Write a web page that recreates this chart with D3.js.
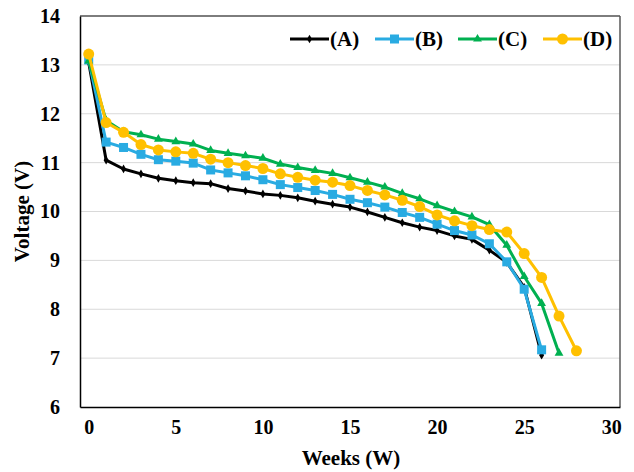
<!DOCTYPE html>
<html>
<head>
<meta charset="utf-8">
<script src="https://cdn.jsdelivr.net/npm/d3@7"></script>
<style>
  body { margin: 0; background: #fff; }
  text { font-family: "Liberation Serif", "Times New Roman", serif; font-weight: bold; fill: #000; }
</style>
</head>
<body>
<svg id="chart" width="634" height="472"></svg>
<script>
var seriesNames = ["(A)", "(B)", "(C)", "(D)"];
var seriesColors = ["#000000", "#29abe2", "#00b050", "#ffc000"];
var seriesMarkers = ["diamond", "square", "triangle", "circle"];

var voltsA = [13.05, 11.05, 10.87, 10.77, 10.68, 10.63, 10.59, 10.57, 10.47, 10.42, 10.36, 10.33, 10.28, 10.21, 10.15, 10.09, 9.99, 9.88, 9.77, 9.68, 9.61, 9.50, 9.43, 9.21, 8.96, 8.45, 7.06];
var voltsB = [13.10, 11.42, 11.31, 11.17, 11.06, 11.03, 10.99, 10.85, 10.79, 10.73, 10.65, 10.55, 10.49, 10.43, 10.35, 10.25, 10.18, 10.09, 9.98, 9.88, 9.74, 9.61, 9.52, 9.34, 8.97, 8.41, 7.17];
var voltsC = [13.08, 11.86, 11.63, 11.57, 11.48, 11.43, 11.38, 11.25, 11.19, 11.14, 11.09, 10.97, 10.90, 10.84, 10.78, 10.69, 10.60, 10.50, 10.37, 10.26, 10.12, 10.00, 9.89, 9.73, 9.31, 8.67, 8.12, 7.10];
var voltsD = [13.22, 11.82, 11.62, 11.37, 11.26, 11.22, 11.19, 11.07, 11.00, 10.94, 10.88, 10.77, 10.70, 10.64, 10.60, 10.53, 10.43, 10.34, 10.23, 10.10, 9.93, 9.81, 9.71, 9.63, 9.58, 9.14, 8.65, 7.86, 7.15];

var xTicks = [0, 5, 10, 15, 20, 25, 30];
var yTicks = [6, 7, 8, 9, 10, 11, 12, 13, 14];

var allSeries = [voltsA, voltsB, voltsC, voltsD];

var plotLeft = 80, plotRight = 620, plotTop = 16, plotBottom = 407;

var x = d3.scaleLinear().domain([-0.5, 30.5]).range([plotLeft, plotRight]);
var y = d3.scaleLinear().domain([6, 14]).range([plotBottom, plotTop]);

var svg = d3.select("#chart");

// gridlines
svg.append("g")
  .selectAll("line")
  .data(yTicks.slice(1))
  .enter().append("line")
    .attr("x1", plotLeft).attr("x2", plotRight)
    .attr("y1", function(d) { return y(d); })
    .attr("y2", function(d) { return y(d); })
    .attr("stroke", "#d9d9d9")
    .attr("stroke-width", 1);

// frame: top/right grey, left/bottom black
svg.append("line").attr("x1", plotLeft).attr("x2", plotRight).attr("y1", plotTop).attr("y2", plotTop)
  .attr("stroke", "#595959").attr("stroke-width", 1.5);
svg.append("line").attr("x1", plotRight).attr("x2", plotRight).attr("y1", plotTop).attr("y2", plotBottom)
  .attr("stroke", "#595959").attr("stroke-width", 1.5);

var yAxis = svg.append("g")
  .attr("transform", "translate(" + plotLeft + ",0)")
  .call(d3.axisLeft(y).tickValues(yTicks).tickSize(0).tickPadding(20).tickFormat(d3.format("d")));
var xAxis = svg.append("g")
  .attr("transform", "translate(0," + plotBottom + ")")
  .call(d3.axisBottom(x).tickValues(xTicks).tickSize(0).tickPadding(13).tickFormat(d3.format("d")));

[yAxis, xAxis].forEach(function(ax) {
  ax.select(".domain").attr("stroke", "#000").attr("stroke-width", 1.5);
  ax.selectAll("text").style("font-size", "20px").style("font-family", "Liberation Serif").style("font-weight", "bold").attr("fill", "#000");
});

svg.append("text")
  .attr("transform", "translate(29," + ((plotTop + plotBottom) / 2) + ") rotate(-90)")
  .attr("text-anchor", "middle")
  .style("font-size", "21px")
  .text("Voltage (V)");

svg.append("text")
  .attr("x", (plotLeft + plotRight) / 2 + 1)
  .attr("y", 465)
  .attr("text-anchor", "middle")
  .style("font-size", "21px")
  .text("Weeks (W)");

var line = d3.line()
  .x(function(d, i) { return x(i); })
  .y(function(d) { return y(d); });

function drawMarker(g, kind, color, cx, cy) {
  if (kind === "diamond") {
    g.append("path").attr("d", d3.symbol().type(d3.symbolDiamond).size(22)())
      .attr("transform", "translate(" + cx + "," + cy + ")").attr("fill", color);
  } else if (kind === "square") {
    g.append("rect").attr("x", cx - 4.5).attr("y", cy - 4.5).attr("width", 9).attr("height", 9).attr("fill", color);
  } else if (kind === "triangle") {
    g.append("path").attr("d", d3.symbol().type(d3.symbolTriangle).size(34)())
      .attr("transform", "translate(" + cx + "," + cy + ")").attr("fill", color);
  } else {
    g.append("circle").attr("cx", cx).attr("cy", cy).attr("r", 5.5).attr("fill", color);
  }
}

allSeries.forEach(function(vals, k) {
  var g = svg.append("g");
  g.append("path")
    .datum(vals)
    .attr("d", line)
    .attr("fill", "none")
    .attr("stroke", seriesColors[k])
    .attr("stroke-width", 3)
    .attr("stroke-linejoin", "round");
  vals.forEach(function(v, i) {
    drawMarker(g, seriesMarkers[k], seriesColors[k], x(i), y(v));
  });
});

// legend
var legendX = [290, 375, 458, 543];
var legendY = 39;
seriesNames.forEach(function(name, k) {
  var g = svg.append("g");
  g.append("line")
    .attr("x1", legendX[k]).attr("x2", legendX[k] + 39)
    .attr("y1", legendY).attr("y2", legendY)
    .attr("stroke", seriesColors[k]).attr("stroke-width", 3);
  drawMarker(g, seriesMarkers[k], seriesColors[k], legendX[k] + 19.5, legendY);
  g.append("text")
    .attr("x", legendX[k] + 40)
    .attr("y", legendY + 7)
    .style("font-size", "21px")
    .text(name);
});
</script>
</body>
</html>
